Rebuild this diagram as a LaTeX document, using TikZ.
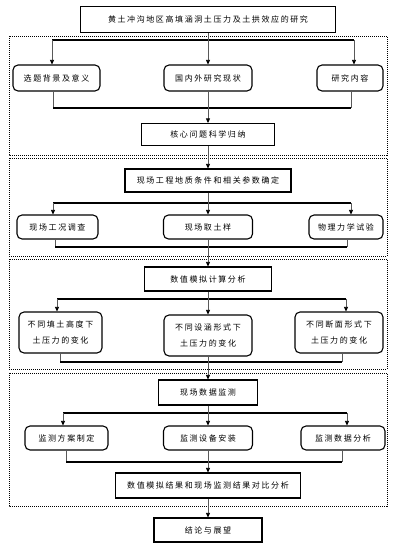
\documentclass[tikz,border=0pt]{standalone}
\usepackage{fontspec}
\newfontfamily\cjk[LetterSpace=20]{Noto Sans CJK SC}
\usetikzlibrary{arrows.meta, positioning}

\begin{document}
\begin{tikzpicture}[
    x=1pt, y=-1pt,
    mainbox/.style={draw, line width=1.1pt, minimum height=24pt, inner sep=0pt, align=center, font=\cjk\fontsize{8}{16}\selectfont},
    subbox/.style={mainbox, rounded corners=5pt},
    stagebox/.style={draw, densely dotted, line width=1pt},
    bar/.style={line width=1.4pt},
    stem/.style={gray!70!black, line width=0.7pt},
    arrow/.style={stem, -{Triangle[length=4.5pt, width=4pt, black]}}
]
    \useasboundingbox (0,0) rectangle (402,550);

    % Stages (dotted frames)
    \draw[stagebox] (9,36) rectangle (387,155);
    \draw[stagebox] (9,158) rectangle (387,256);
    \draw[stagebox] (9,259) rectangle (387,369);
    \draw[stagebox] (9,373) rectangle (387,506);

    % Main line of boxes
    \node[mainbox, minimum width=255pt, minimum height=26pt] (title) at (208,19.5) {黄土冲沟地区高填涵洞土压力及土拱效应的研究};
    \node[subbox, minimum width=87pt, minimum height=26pt] (bg) at (56.5,78) {选题背景及意义};
    \node[subbox, minimum width=88pt, minimum height=26pt] (status) at (208,78) {国内外研究现状};
    \node[subbox, minimum width=66pt, minimum height=26pt] (content) at (350,78) {研究内容};
    \node[mainbox, minimum width=133pt, minimum height=22pt] (core) at (208,134.5) {核心问题科学归纳};

    \node[mainbox, minimum width=166pt, minimum height=23pt] (geo) at (208,180.5) {现场工程地质条件和相关参数确定};
    \node[subbox, minimum width=81pt] (survey) at (57.5,227) {现场工况调查};
    \node[subbox, minimum width=89pt] (sample) at (208,227) {现场取土样};
    \node[subbox, minimum width=74pt] (lab) at (346,227) {物理力学试验};

    \node[mainbox, minimum width=127pt] (sim) at (208,279) {数值模拟计算分析};
    \node[subbox, minimum width=83pt, minimum height=41pt] (height) at (60.5,332.5) {不同填土高度下\\土压力的变化};
    \node[subbox, minimum width=88pt, minimum height=41pt] (culvert) at (208,335.5) {不同设涵形式下\\土压力的变化};
    \node[subbox, minimum width=88pt, minimum height=41pt] (section) at (339,332.5) {不同断面形式下\\土压力的变化};

    \node[mainbox, minimum width=99pt, minimum height=25pt] (monitor) at (208,392.5) {现场数据监测};
    \node[subbox, minimum width=83pt] (plan) at (66.5,438) {监测方案制定};
    \node[subbox, minimum width=89pt] (install) at (208,438) {监测设备安装};
    \node[subbox, minimum width=84pt] (analysis) at (343,438) {监测数据分析};
    \node[mainbox, minimum width=185pt, minimum height=25pt] (compare) at (208,485.5) {数值模拟结果和现场监测结果对比分析};

    \node[mainbox, minimum width=108pt] (outlook) at (208,530) {结论与展望};

    % Bar ends
    \coordinate (s1l) at (52,40);  \coordinate (s1r) at (354,40);
    \coordinate (j1l) at (53,108); \coordinate (j1r) at (351,108);
    \coordinate (s2l) at (53,203); \coordinate (s2r) at (351,203);
    \coordinate (j2l) at (55,247); \coordinate (j2r) at (347,247);
    \coordinate (s3l) at (57,299); \coordinate (s3r) at (346,299);
    \coordinate (j3l) at (60,362); \coordinate (j3r) at (342,362);
    \coordinate (s4l) at (63,413); \coordinate (s4r) at (347,413);
    \coordinate (j4l) at (66,462); \coordinate (j4r) at (342,462);

    % Stage 1
    \draw[bar] (s1l) -- (s1r);
    \draw[arrow] (s1l) -- (s1l |- bg.north);
    \draw[arrow] (s1r) -- (s1r |- content.north);
    \draw[arrow] (title) -- (status);
    \draw[stem] (bg.south -| j1l) -- (j1l);
    \draw[stem] (content.south -| j1r) -- (j1r);
    \draw[bar] (j1l) -- (j1r);
    \draw[arrow] (status) -- (core);

    % Stage 2
    \draw[arrow] (core) -- (geo);
    \draw[bar] (s2l) -- (s2r);
    \draw[arrow] (s2l) -- (s2l |- survey.north);
    \draw[arrow] (s2r) -- (s2r |- lab.north);
    \draw[arrow] (geo) -- (sample);
    \draw[stem] (survey.south -| j2l) -- (j2l);
    \draw[stem] (lab.south -| j2r) -- (j2r);
    \draw[bar] (j2l) -- (j2r);
    \draw[arrow] (sample) -- (sim);

    % Stage 3
    \draw[bar] (s3l) -- (s3r);
    \draw[arrow] (s3l) -- (s3l |- height.north);
    \draw[arrow] (s3r) -- (s3r |- section.north);
    \draw[arrow] (sim) -- (culvert);
    \draw[stem] (height.south -| j3l) -- (j3l);
    \draw[stem] (section.south -| j3r) -- (j3r);
    \draw[bar] (j3l) -- (j3r);
    \draw[arrow] (culvert) -- (monitor);

    % Stage 4
    \draw[bar] (s4l) -- (s4r);
    \draw[arrow] (s4l) -- (s4l |- plan.north);
    \draw[arrow] (s4r) -- (s4r |- analysis.north);
    \draw[arrow] (monitor) -- (install);
    \draw[stem] (plan.south -| j4l) -- (j4l);
    \draw[stem] (analysis.south -| j4r) -- (j4r);
    \draw[bar] (j4l) -- (j4r);
    \draw[arrow] (install) -- (compare);
    \draw[arrow] (compare) -- (outlook);
\end{tikzpicture}
\end{document}
